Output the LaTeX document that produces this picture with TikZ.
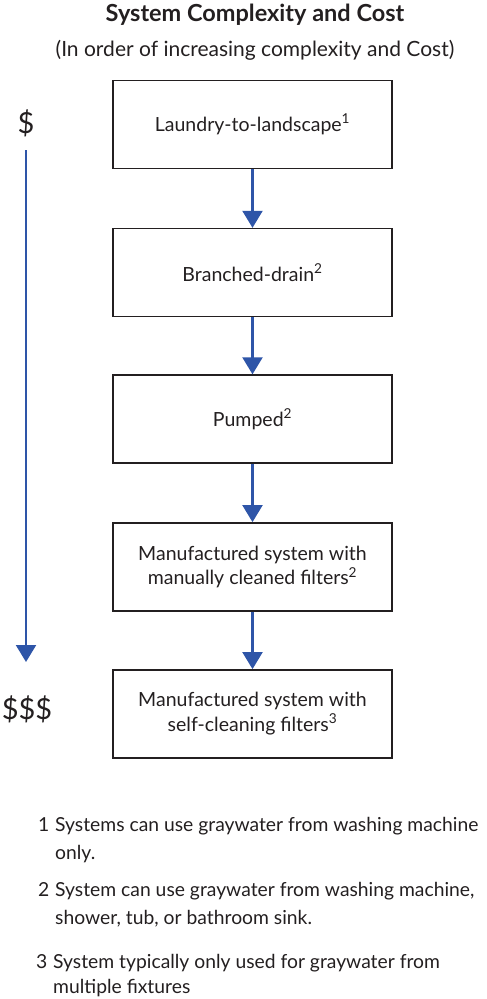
\documentclass[tikz,border=0pt]{standalone}
\usepackage{fontspec}
\setmainfont{Lato}
\usetikzlibrary{arrows.meta}
\definecolor{arrowblue}{HTML}{2E55A8}
\definecolor{ink}{HTML}{231F20}
\begin{document}
\begin{tikzpicture}[x=1pt,y=-1pt,
  stage/.style={draw=ink,line width=1.4pt,minimum width=279pt,minimum height=88pt,
    inner sep=0pt,align=center,text=ink,font=\fontsize{19.5}{24.5}\selectfont},
  flow/.style={draw=arrowblue,line width=2.2pt,-{Triangle[length=17pt,width=20pt]}},
  note/.style={anchor=base west,inner sep=0pt,text=ink,font=\fontsize{19.3}{22}\selectfont},
  cost/.style={inner sep=0pt,text=ink,font=\fontsize{29}{32}\selectfont}]
\useasboundingbox (0,0) rectangle (487,999);
\node[inner sep=0pt,text=ink,font=\bfseries\fontsize{23.5}{26}\selectfont] (title) at (255,15) {System Complexity and Cost};
\node[inner sep=0pt,text=ink,font=\fontsize{21}{24}\selectfont] (sub) at (255,50) {(In order of increasing complexity and Cost)};
\node[stage] (b1) at (252.5,124.5) {Laundry-to-landscape\textsuperscript{1}};
\node[stage] (b2) at (252.5,272.5) {Branched-drain\textsuperscript{2}};
\node[stage] (b3) at (252.5,419) {Pumped\textsuperscript{2}};
\node[stage] (b4) at (252.5,566.8) {Manufactured system with\\manually cleaned filters\textsuperscript{2}};
\node[stage] (b5) at (252.5,713.8) {Manufactured system with\\self-cleaning filters\textsuperscript{3}};
\draw[flow] (b1) -- (b2);
\draw[flow] (b2) -- (b3);
\draw[flow] (b3) -- (b4);
\draw[flow] (b4) -- (b5);
\node[cost] (c1) at (26,123) {\$};
\node[cost] (c3) at (27,709) {\$\$\$};
\coordinate (top) at (26,150);
\coordinate (bot) at (26,662);
\draw[flow] (top) -- (bot);
\node[note] (n1) at (38,831) {1};
\node[note] (t1) at (55,831) {Systems can use graywater from washing machine};
\node[note] (t1b) at (55,859) {only.};
\node[note] (n2) at (38,896) {2};
\node[note] (t2) at (55,896) {System can use graywater from washing machine,};
\node[note] (t2b) at (55,924) {shower, tub, or bathroom sink.};
\node[note] (n3) at (36,968) {3};
\node[note] (t3) at (53,968) {System typically only used for graywater from};
\node[note] (t3b) at (53,993) {multiple fixtures};
\end{tikzpicture}
\end{document}
